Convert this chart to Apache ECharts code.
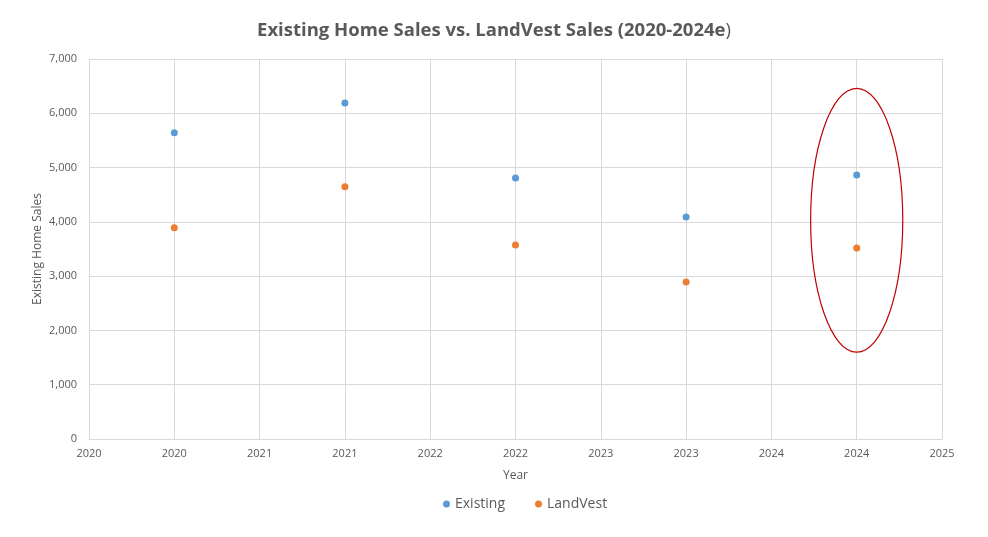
<!DOCTYPE html>
<html>
<head>
<meta charset="utf-8">
<title>Existing Home Sales vs. LandVest Sales</title>
<script src="https://cdn.jsdelivr.net/npm/echarts@6/dist/echarts.min.js"></script>
<style>
    html, body { margin: 0; padding: 0; background: #fff; }
    #chart { width: 988px; height: 537px; }
</style>
</head>
<body>
<div id="chart"></div>
<script>
const years = [2020, 2021, 2022, 2023, 2024];
const existingSales = [5640, 6190, 4810, 4090, 4865];
const landvestSales = [3890, 4645, 3575, 2890, 3520];

// highlight ring around the 2024 estimate, in data units
const ringCenter = [2024, 4030];
const ringHalfWidth = 0.27;
const ringHalfHeight = 2430;

const textColor = '#595959';
const gridColor = '#d9d9d9';
const fontFamily = 'Open Sans, Noto Sans, sans-serif';

const chartDom = document.getElementById('chart');
const chart = echarts.init(chartDom);

const toPoints = (values) => values.map((v, i) => [years[i], v]);

chart.setOption({
    animation: false,
    textStyle: { fontFamily: fontFamily },
    title: {
        text: '{b|Existing Home Sales vs. LandVest Sales (2020-2024e}{n|)}',
        left: 'center',
        top: 16,
        textStyle: {
            rich: {
                b: { fontSize: 18.5, fontWeight: 'bold', color: textColor, fontFamily: fontFamily },
                n: { fontSize: 18.5, fontWeight: 'normal', color: textColor, fontFamily: fontFamily }
            }
        }
    },
    legend: {
        bottom: 21,
        left: 438,
        itemWidth: 7,
        itemHeight: 7,
        itemGap: 30,
        textStyle: { color: textColor, fontSize: 14 },
        data: [
            { name: 'Existing', icon: 'circle' },
            { name: 'LandVest', icon: 'circle' }
        ]
    },
    grid: { left: 89, right: 46, top: 59, bottom: 98 },
    xAxis: {
        type: 'value',
        min: 2019.5,
        max: 2024.5,
        interval: 0.5,
        name: 'Year',
        nameLocation: 'middle',
        nameGap: 31,
        nameTextStyle: { color: textColor, fontSize: 12 },
        axisLine: { onZero: false, lineStyle: { color: gridColor } },
        axisTick: { show: false },
        axisLabel: {
            color: textColor,
            fontSize: 11,
            margin: 9,
            formatter: (v) => String(Math.round(v))
        },
        splitLine: { show: true, lineStyle: { color: gridColor } }
    },
    yAxis: {
        type: 'value',
        min: 0,
        max: 7000,
        interval: 1000,
        name: 'Existing Home Sales',
        nameLocation: 'middle',
        nameGap: 45,
        nameMoveOverlap: false,
        nameTextStyle: { color: textColor, fontSize: 12 },
        axisLine: { show: true, lineStyle: { color: gridColor } },
        axisTick: { show: false },
        axisLabel: {
            color: textColor,
            fontSize: 11,
            margin: 12,
            formatter: (v) => v.toLocaleString('en-US')
        },
        splitLine: { lineStyle: { color: gridColor } }
    },
    series: [
        {
            name: 'Existing',
            type: 'scatter',
            symbolSize: 7,
            itemStyle: { color: '#5b9bd5', opacity: 1 },
            data: toPoints(existingSales)
        },
        {
            name: 'LandVest',
            type: 'scatter',
            symbolSize: 7,
            itemStyle: { color: '#ed7d31', opacity: 1 },
            data: toPoints(landvestSales)
        }
    ]
});

// place the ellipse through the chart's own scales
const c = chart.convertToPixel({ gridIndex: 0 }, ringCenter);
const edge = chart.convertToPixel({ gridIndex: 0 }, [ringCenter[0] + ringHalfWidth, ringCenter[1] + ringHalfHeight]);
chart.setOption({
    graphic: [{
        type: 'ellipse',
        shape: { cx: c[0], cy: c[1], rx: Math.abs(edge[0] - c[0]), ry: Math.abs(c[1] - edge[1]) },
        style: { fill: 'none', stroke: '#c00000', lineWidth: 1.2 },
        z: 10
    }]
});
</script>
</body>
</html>
